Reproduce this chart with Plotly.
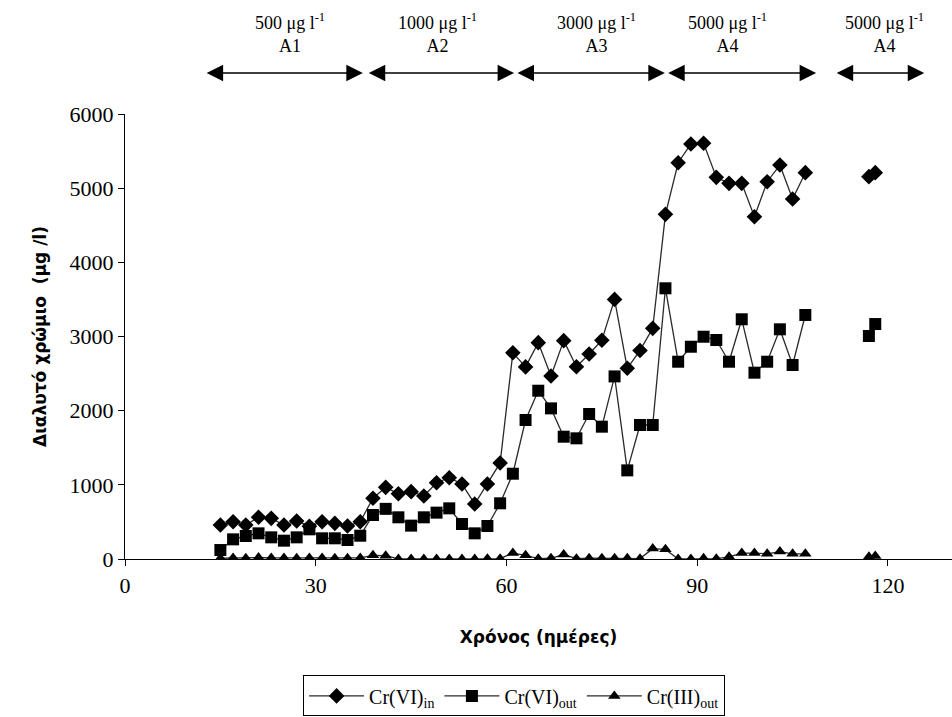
import plotly.graph_objects as go

# ---- data ----
days = [15, 17, 19, 21, 23, 25, 27, 29, 31, 33, 35, 37, 39, 41, 43, 45, 47, 49, 51, 53,
        55, 57, 59, 61, 63, 65, 67, 69, 71, 73, 75, 77, 79, 81, 83, 85, 87, 89, 91, 93,
        95, 97, 99, 101, 103, 105, 107, 112, 117, 118]

cr6_in = [458, 503, 458, 562, 548, 458, 512, 440, 503, 481, 445, 503, 820, 966, 880, 908,
          849, 1029, 1096, 1011, 742, 1011, 1295, 2780, 2590, 2917, 2467, 2944, 2593, 2764,
          2950, 3500, 2571, 2812, 3110, 4647, 5343, 5596, 5605, 5146, 5065, 5065, 4615,
          5087, 5312, 4854, 5209, None, 5155, 5209]

cr6_out = [121, 265, 310, 346, 292, 247, 292, 400, 279, 279, 256, 314, 593, 676, 562, 450,
           562, 625, 683, 472, 346, 445, 751, 1150, 1874, 2269, 2031, 1649, 1627, 1955,
           1784, 2462, 1195, 1807, 1807, 3650, 2660, 2862, 2997, 2953, 2660, 3232, 2512,
           2660, 3097, 2616, 3290, None, 3007, 3168]

cr3_out = [10, 15, 10, 20, 15, 15, 10, 15, 15, 10, 10, 15, 50, 45, 0, 0, 0, 0, 0, 0,
           0, 5, 5, 80, 50, 5, 10, 60, 5, 10, 10, 10, 10, 5, 140, 130, 0, 0, 10, 5,
           30, 80, 80, 70, 100, 70, 70, None, 30, 40]

series_names = ["Cr(VI)<sub>in</sub>", "Cr(VI)<sub>out</sub>", "Cr(III)<sub>out</sub>"]

x_ticks = [0, 30, 60, 90, 120]
y_ticks = [0, 1000, 2000, 3000, 4000, 5000, 6000]

# dosing periods (arrows above the plot)
period_start = [12.6, 38.1, 61.5, 85.2, 111.7]
period_end = [37.4, 61.2, 84.9, 108.7, 125.7]
period_label_x = [25.9, 49.2, 74.1, 94.8, 119.4]
period_labels = ["500 μg l<sup>-1</sup><br>A1", "1000 μg l<sup>-1</sup><br>A2",
                 "3000 μg l<sup>-1</sup><br>A3", "5000 μg l<sup>-1</sup><br>A4",
                 "5000 μg l<sup>-1</sup><br>A4"]

serif = "Liberation Serif, Times New Roman, serif"
sans_bold = "DejaVu Sans, Verdana, sans-serif"

fig = go.Figure()
line_style = dict(color="#2a2a2a", width=1.3)
fig.add_trace(go.Scatter(x=days, y=cr6_in, mode="lines+markers", name=series_names[0],
                         line=line_style,
                         marker=dict(symbol="diamond", size=12, color="black")))
fig.add_trace(go.Scatter(x=days, y=cr6_out, mode="lines+markers", name=series_names[1],
                         line=line_style,
                         marker=dict(symbol="square", size=12, color="black")))
fig.add_trace(go.Scatter(x=days, y=cr3_out, mode="lines+markers", name=series_names[2],
                         line=line_style,
                         marker=dict(symbol="triangle-up", size=11, color="black")))

annotations = []
for s, e in zip(period_start, period_end):
    annotations.append(dict(x=e, y=1.092, xref="x", yref="paper",
                            ax=s, ay=0, axref="x", ayref="pixel",
                            text="", showarrow=True, arrowhead=2, startarrowhead=2,
                            arrowside="end+start", arrowsize=2.2, startarrowsize=2.2,
                            arrowwidth=1.5, arrowcolor="black",
                            standoff=0, startstandoff=0))
for lx, lt in zip(period_label_x, period_labels):
    annotations.append(dict(x=lx, y=1.182, xref="x", yref="paper", text=lt,
                            showarrow=False, xanchor="center", yanchor="middle",
                            font=dict(family=serif, size=18, color="black")))

fig.update_layout(
    width=952, height=717,
    margin=dict(l=125, r=0, t=114, b=158, autoexpand=False),
    paper_bgcolor="white", plot_bgcolor="white",
    font=dict(family=serif, size=22, color="black"),
    showlegend=True,
    legend=dict(orientation="h", xref="container", yref="container",
                x=0.54, xanchor="center", y=0.058, yanchor="top",
                bordercolor="black", borderwidth=1, bgcolor="white",
                font=dict(family=serif, size=20, color="black"),
                itemwidth=55, tracegroupgap=0),
    annotations=annotations,
    xaxis=dict(range=[0, 130.07], tickvals=x_ticks, ticks="outside", ticklen=6,
               tickcolor="black", showline=True, linecolor="black", linewidth=1.3,
               showgrid=False, zeroline=False, automargin=False,
               tickfont=dict(family=serif, size=22, color="black"),
               title=dict(text="<b>Χρόνος (ημέρες)</b>", standoff=34,
                          font=dict(family=sans_bold, size=17, color="black"))),
    yaxis=dict(range=[0, 6000], tickvals=y_ticks, ticks="outside", ticklen=6,
               tickcolor="black", showline=True, linecolor="black", linewidth=1.3,
               showgrid=False, zeroline=False, automargin=False,
               tickfont=dict(family=serif, size=22, color="black"),
               title=dict(text="<b>Διαλυτό χρώμιο\u00a0\u00a0(μg /l)</b>", standoff=18,
                          font=dict(family=sans_bold, size=17, color="black"))),
)

fig.write_html("out.html")
